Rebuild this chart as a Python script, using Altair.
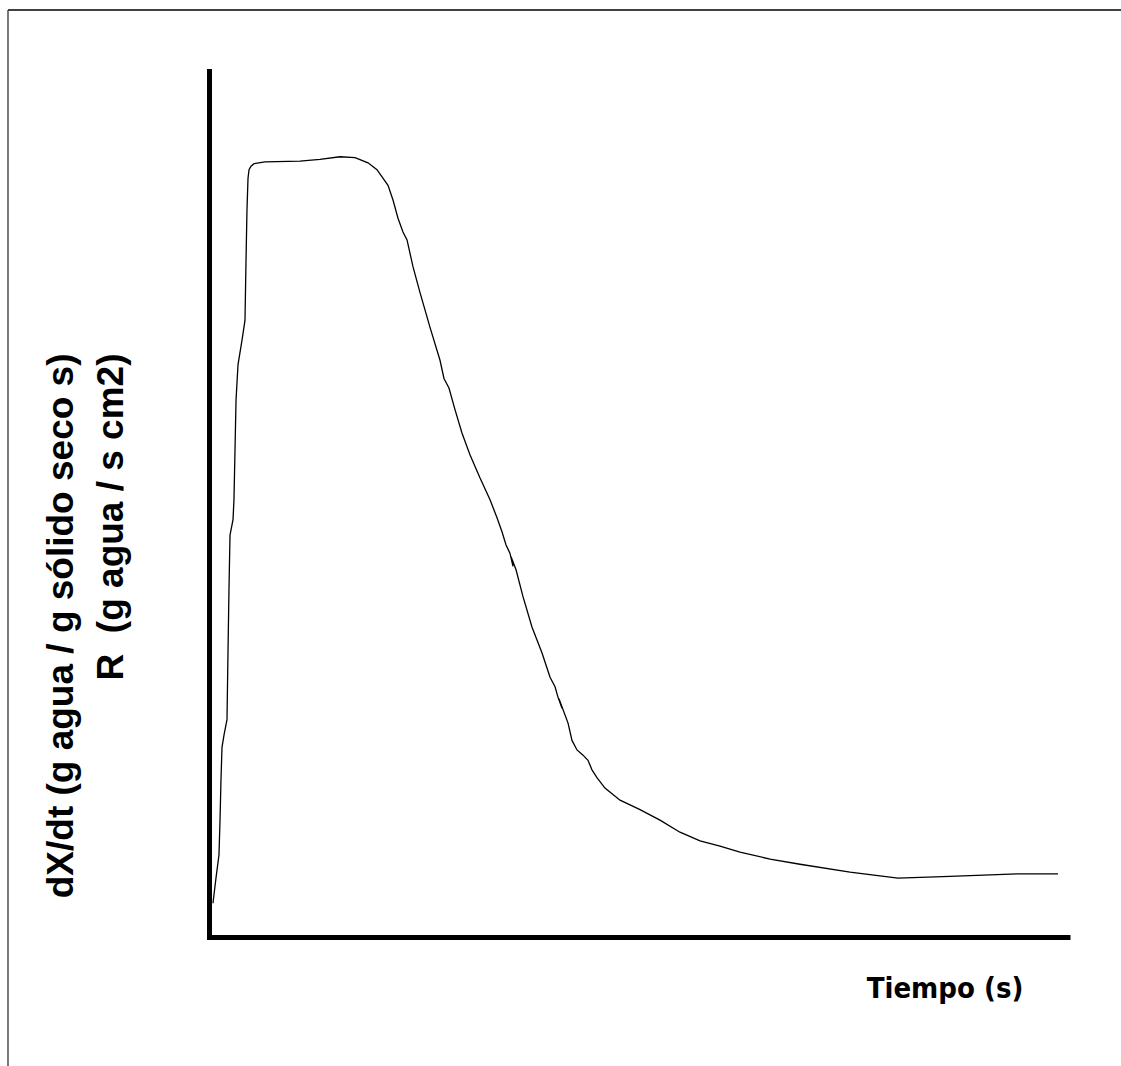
import altair as alt
import pandas as pd

# Drying-rate curve, both axes in percent of full scale
time_pct = [0.46, 0.81, 1.16, 1.28, 1.39, 1.51, 1.74, 2.09, 2.21, 2.32, 2.44, 2.79, 2.90,
            3.02, 3.14, 3.37, 3.83, 4.18, 4.30, 4.41, 4.53, 4.65, 4.88, 5.23, 6.50, 10.57,
            12.89, 15.21, 16.96, 18.47, 19.51, 20.79, 21.37, 21.95, 22.53, 23.00, 23.69,
            24.51, 25.67, 26.83, 27.29, 27.87, 28.57, 29.38, 30.31, 31.48, 32.64, 33.45,
            34.03, 34.49, 34.96, 35.31, 35.08, 35.66, 36.47, 37.51, 38.68, 39.14, 39.61,
            40.19, 40.53, 41.00, 40.65, 41.70, 42.16, 42.74, 43.44, 44.02, 44.48, 45.06,
            45.99, 47.74, 50.06, 52.38, 54.70, 57.03, 59.35, 61.67, 65.16, 68.64, 74.45,
            80.02, 86.06, 93.84, 98.61]
rate_pct = [3.9, 6.8, 9.5, 13.5, 18.1, 21.9, 23.3, 25.1, 33.1, 40.1, 46.4, 48.2, 50.5,
            56.2, 62.0, 66.1, 68.9, 71.2, 78.2, 83.9, 87.6, 88.6, 89.0, 89.3, 89.5, 89.6,
            89.8, 90.1, 90.0, 89.4, 88.6, 86.8, 85.1, 83.0, 81.4, 80.5, 77.4,
            74.4, 70.4, 66.6, 64.5, 63.4, 60.9, 58.2, 55.7, 53.0, 50.5, 48.4,
            46.8, 45.3, 44.3, 42.8, 43.9, 42.4, 39.3, 35.8, 32.8, 31.4, 30.0,
            28.9, 27.7, 26.4, 27.5, 24.7, 22.7, 21.6, 21.0, 20.4, 19.3, 18.4,
            17.2, 15.8, 14.7, 13.5, 12.1, 11.1, 10.5, 9.8, 9.0, 8.4, 7.5,
            6.8, 7.0, 7.3, 7.3]

x_title = "Tiempo (s)"
y_title = ["dX/dt (g agua / g sólido seco s)", "R\u00a0\u00a0(g agua / s cm2)"]

df = pd.DataFrame({"t": time_pct, "r": rate_pct, "seq": list(range(len(time_pct)))})
one = pd.DataFrame({"k": [0]})

W, H = 861, 866

x_axis = alt.Axis(
    title=x_title, domainWidth=5, domainColor="black", ticks=False, labels=False,
    grid=False, titleX=735.5, titleY=60, titleAlign="center", titleBaseline="alphabetic",
    titleAngle=0,
    titleFont="Liberation Sans Narrow, Arial Narrow, DejaVu Sans Condensed, Liberation Sans",
    titleFontSize=29, titleFontWeight="bold", titleColor="black",
)
y_axis = alt.Axis(
    title=y_title, domainWidth=5, domainColor="black", domainCap="square", ticks=False,
    labels=False, grid=False, titleX=-137, titleY=282, titleAngle=270,
    titleAlign="right", titleBaseline="alphabetic", titleLineHeight=50,
    titleFont="Liberation Sans", titleFontSize=37, titleFontWeight="bold",
    titleColor="black",
)

curve = alt.Chart(df).mark_line(color="black", strokeWidth=1.3, interpolate="linear").encode(
    x=alt.X("t:Q", scale=alt.Scale(domain=[0, 100], nice=False, zero=False), axis=x_axis),
    y=alt.Y("r:Q", scale=alt.Scale(domain=[0, 100], nice=False, zero=False), axis=y_axis),
    order="seq:Q",
)

# page frame: top and left edges
frame_top = alt.Chart(one).mark_rule(color="black", strokeWidth=1.6).encode(
    x=alt.value(-201), x2=alt.value(912), y=alt.value(-61)
)
frame_left = alt.Chart(one).mark_rule(color="#333333", strokeWidth=1.3).encode(
    x=alt.value(-201), y=alt.value(-61), y2=alt.value(995)
)

chart = alt.layer(frame_top, frame_left, curve).properties(
    width=W, height=H,
    autosize=alt.AutoSizeParams(type="none"),
    padding={"left": 209, "top": 71, "right": 51, "bottom": 129},
    background="white",
).configure_view(strokeWidth=0)

chart.save("out.html", embed_options={"renderer": "svg", "actions": False})
